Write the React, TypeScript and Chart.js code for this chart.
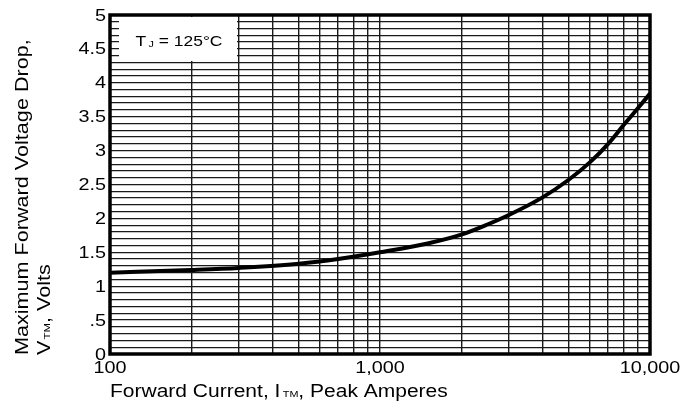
import React, { useEffect, useRef } from "react";
import { Chart, registerables } from "chart.js";

Chart.register(...registerables);

// ---- data ----
const currentAmps = [100, 200, 300, 500, 700, 1000, 1500, 2000, 2500, 3000, 4000, 5000, 6000, 7000, 8000, 9000, 10000];
const voltageDrop = [1.2, 1.24, 1.27, 1.33, 1.4, 1.5, 1.63, 1.76, 1.91, 2.05, 2.31, 2.57, 2.83, 3.1, 3.38, 3.62, 3.84];

const xGridValues = [100, 200, 300, 400, 500, 600, 700, 800, 900, 1000, 2000, 3000, 4000, 5000, 6000, 7000, 8000, 9000, 10000];
const xTickValues = [100, 1000, 10000];
const xTickLabels = ["100", "1,000", "10,000"];
const yTickValues = [0, 0.5, 1, 1.5, 2, 2.5, 3, 3.5, 4, 4.5, 5];
const yTickLabels = ["0", ".5", "1", "1.5", "2", "2.5", "3", "3.5", "4", "4.5", "5"];

const yTitleLine1 = "Maximum Forward Voltage Drop,";
const yTitleLine2 = ["V", "TM", ", Volts"];
const xTitle = ["Forward Current, I", "TM", ", Peak Amperes"];
const tempLabel = ["T", "J", " = 125\u00B0C"];

const FONT = '"Liberation Sans", Arial, Helvetica, sans-serif';
const STRETCH = 1.2;

type Part = { t: string; s: number; dy?: number; gap?: number };

function drawRun(
  ctx: CanvasRenderingContext2D,
  parts: Part[],
  x: number,
  y: number,
  angle: number,
  stretch: number,
  align: "start" | "center" | "end"
) {
  ctx.save();
  ctx.translate(x, y);
  ctx.rotate(angle);
  ctx.scale(stretch, 1);
  let total = 0;
  for (const p of parts) {
    ctx.font = `${p.s}px ${FONT}`;
    total += ctx.measureText(p.t).width + (p.gap || 0);
  }
  let cx = align === "center" ? -total / 2 : align === "end" ? -total : 0;
  ctx.textAlign = "left";
  ctx.textBaseline = "alphabetic";
  ctx.fillStyle = "#000";
  for (const p of parts) {
    ctx.font = `${p.s}px ${FONT}`;
    cx += p.gap || 0;
    ctx.fillText(p.t, cx, p.dy || 0);
    cx += ctx.measureText(p.t).width;
  }
  ctx.restore();
}

const overlayPlugin = {
  id: "overlay",
  beforeDatasetsDraw(chart: any) {
    const ctx = chart.ctx as CanvasRenderingContext2D;
    const { left, top } = chart.chartArea;
    // white label box for the junction temperature
    ctx.save();
    ctx.fillStyle = "#fff";
    ctx.fillRect(left + 9, top + 2, 118, 44);
    ctx.restore();
    drawRun(
      ctx,
      [
        { t: tempLabel[0], s: 14.5 },
        { t: tempLabel[1], s: 9, dy: 1, gap: 2 },
        { t: tempLabel[2], s: 14.5 },
      ],
      left + 69,
      top + 31,
      0,
      STRETCH,
      "center"
    );
  },
  afterDraw(chart: any) {
    const ctx = chart.ctx as CanvasRenderingContext2D;
    const { left, right, top, bottom } = chart.chartArea;
    const xs = chart.scales.x;
    const ys = chart.scales.y;

    // frame
    ctx.save();
    ctx.strokeStyle = "#000";
    ctx.lineWidth = 3.5;
    ctx.strokeRect(left, top, right - left, bottom - top);
    ctx.restore();

    // x tick labels
    xTickValues.forEach((v, i) => {
      const px = xs.getPixelForValue(v);
      drawRun(ctx, [{ t: xTickLabels[i], s: 16.5 }], px, bottom + 19, 0, STRETCH, "center");
    });
    // y tick labels
    yTickValues.forEach((v, i) => {
      const py = ys.getPixelForValue(v);
      drawRun(ctx, [{ t: yTickLabels[i], s: 16.5 }], left - 4, py + 5.5, 0, STRETCH, "end");
    });

    // x title
    drawRun(
      ctx,
      [
        { t: xTitle[0], s: 17.5 },
        { t: xTitle[1], s: 9, dy: 0, gap: 2 },
        { t: xTitle[2], s: 17.5 },
      ],
      left,
      bottom + 43,
      0,
      STRETCH,
      "start"
    );

    // y title (two rotated lines)
    drawRun(ctx, [{ t: yTitleLine1, s: 18 }], 28, bottom + 1, -Math.PI / 2, STRETCH, "start");
    drawRun(
      ctx,
      [
        { t: yTitleLine2[0], s: 18 },
        { t: yTitleLine2[1], s: 9.5, dy: 0, gap: 1 },
        { t: yTitleLine2[2], s: 18 },
      ],
      50,
      bottom + 1,
      -Math.PI / 2,
      STRETCH,
      "start"
    );
  },
};

export default function App() {
  const canvasRef = useRef<HTMLCanvasElement | null>(null);

  useEffect(() => {
    const canvas = canvasRef.current;
    if (!canvas) return;
    const chart = new Chart(canvas, {
      type: "line",
      data: {
        datasets: [
          {
            data: currentAmps.map((x, i) => ({ x, y: voltageDrop[i] })),
            borderColor: "#000",
            borderWidth: 4,
            pointRadius: 0,
            fill: false,
            cubicInterpolationMode: "monotone",
          },
        ],
      },
      options: {
        responsive: false,
        animation: false,
        devicePixelRatio: 1,
        layout: { padding: { left: 110, right: 45, top: 15, bottom: 48 } },
        plugins: {
          legend: { display: false },
          tooltip: { enabled: false },
        },
        scales: {
          x: {
            type: "logarithmic",
            min: 100,
            max: 10000,
            afterBuildTicks: (scale: any) => {
              scale.ticks = xGridValues.map((v) => ({ value: v }));
            },
            ticks: { display: false },
            grid: { color: "#1a1a1a", lineWidth: 1.4, drawTicks: false },
            border: { display: false },
          },
          y: {
            type: "linear",
            min: 0,
            max: 5,
            ticks: { display: false, stepSize: 0.1 },
            grid: { color: "#1a1a1a", lineWidth: 1.3, drawTicks: false },
            border: { display: false },
          },
        },
      },
      plugins: [overlayPlugin],
    } as any);
    return () => chart.destroy();
  }, []);

  return (
    <div style={{ position: "fixed", left: 0, top: 0, width: 695, height: 402, background: "#fff" }}>
      <canvas ref={canvasRef} width={695} height={402} style={{ display: "block" }} />
    </div>
  );
}
